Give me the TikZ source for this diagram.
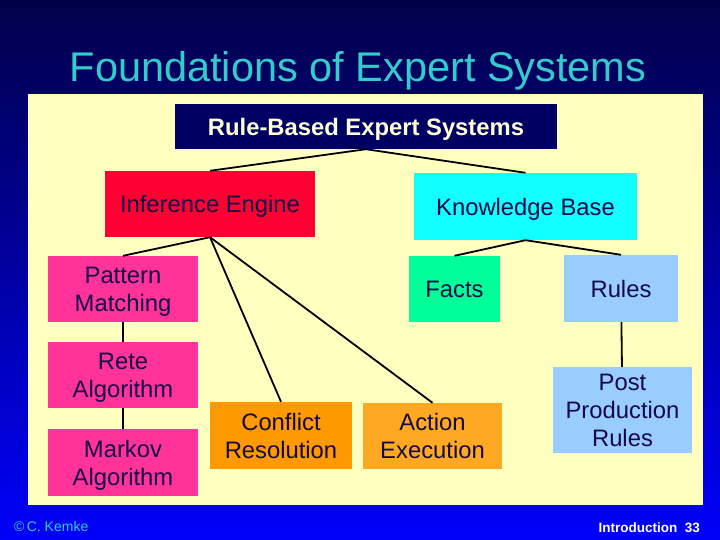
\documentclass[tikz,border=0pt]{standalone}
\usepackage{fontspec}
\setmainfont{Liberation Sans}
\definecolor{bgtop}{HTML}{000048}
\definecolor{bgbot}{HTML}{0000FA}
\definecolor{panel}{HTML}{FFFFC0}
\definecolor{titlecyan}{HTML}{33CCCC}
\definecolor{navybox}{HTML}{000063}
\definecolor{cream}{HTML}{FFFFD8}
\definecolor{boxtext}{HTML}{140A48}
\definecolor{iered}{HTML}{FF0033}
\definecolor{kbcyan}{HTML}{11FFFF}
\definecolor{pmpink}{HTML}{FF3399}
\definecolor{crorange}{HTML}{FF9900}
\definecolor{aeorange}{HTML}{FFA822}
\definecolor{factgreen}{HTML}{00FF99}
\definecolor{ruleblue}{HTML}{99CCFF}
\tikzset{
  % rutor
  box/.style={rectangle,inner sep=0pt,align=center,text=boxtext,text depth=0pt,
              font=\fontsize{23.8}{28}\selectfont},
  topbox/.style={box,fill=navybox,text=cream,
                 font=\fontsize{23.8}{28}\selectfont\bfseries},
  engine/.style={box,fill=iered},
  kbase/.style={box,fill=kbcyan},
  match/.style={box,fill=pmpink},
  conflict/.style={box,fill=crorange},
  action/.style={box,fill=aeorange},
  facts/.style={box,fill=factgreen},
  rules/.style={box,fill=ruleblue},
  % linjer
  link/.style={draw=black,line width=1.8pt},
  % text
  slidetitle/.style={text=titlecyan,font=\fontsize{41.5}{44}\selectfont,inner sep=0pt},
  foot/.style={inner sep=0pt,font=\fontsize{14}{16}\selectfont},
}
\begin{document}
\begin{tikzpicture}[x=1pt,y=-1pt]
\useasboundingbox (0,0) rectangle (720,540);
  \shade[top color=bgtop,bottom color=bgbot] (0,0) rectangle (720,540);
  \fill[panel] (28,94) rectangle (703,505);
  \node[slidetitle,anchor=base] (title) at (358,82) {Foundations of Expert Systems};
  % baum
  \node[topbox,minimum width=382pt,minimum height=45pt] (rbes) at (366,126.5) {Rule-Based Expert Systems};
  \node[engine,minimum width=210pt,minimum height=66pt] (ie) at (210,204) {Inference Engine};
  \node[kbase,minimum width=223pt,minimum height=67pt] (kb) at (525.5,206.5) {Knowledge Base};
  \node[match,minimum width=150pt,minimum height=66pt] (pm) at (123,289) {Pattern\\Matching};
  \node[match,minimum width=150pt,minimum height=66pt] (rete) at (123,375) {Rete\\Algorithm};
  \node[match,minimum width=150pt,minimum height=67pt] (markov) at (123,462.5) {Markov\\Algorithm};
  \node[conflict,minimum width=142pt,minimum height=67pt] (cr) at (281,435.5) {Conflict\\Resolution};
  \node[action,minimum width=139pt,minimum height=66pt] (ae) at (432.5,436) {Action\\Execution};
  \node[facts,minimum width=91pt,minimum height=66pt] (facts) at (454.5,289) {Facts};
  \node[rules,minimum width=114pt,minimum height=67pt] (rules) at (621,288.5) {Rules};
  \node[rules,minimum width=139pt,minimum height=86pt] (ppr) at (622.5,410) {Post\\Production\\Rules};
  \draw[link] (rbes.south) -- (ie.north);
  \draw[link] (rbes.south) -- (kb.north);
  \draw[link] (ie.south) -- (pm.north);
  \draw[link] (ie.south) -- (cr.north);
  \draw[link] (ie.south) -- (ae.north);
  \draw[link] (pm) -- (rete);
  \draw[link] (rete) -- (markov);
  \draw[link] (kb.south) -- (facts.north);
  \draw[link] (kb.south) -- (rules.north);
  \draw[link] (rules) -- (ppr);
  % fuss
  \node[foot,text=titlecyan,anchor=base west] (author) at (14,531) {\textcopyright\,C. Kemke};
  \node[foot,text=white,anchor=base east,font=\fontsize{13.5}{15}\selectfont\bfseries] (page) at (700,532) {Introduction\ \ 33};
\end{tikzpicture}
\end{document}
